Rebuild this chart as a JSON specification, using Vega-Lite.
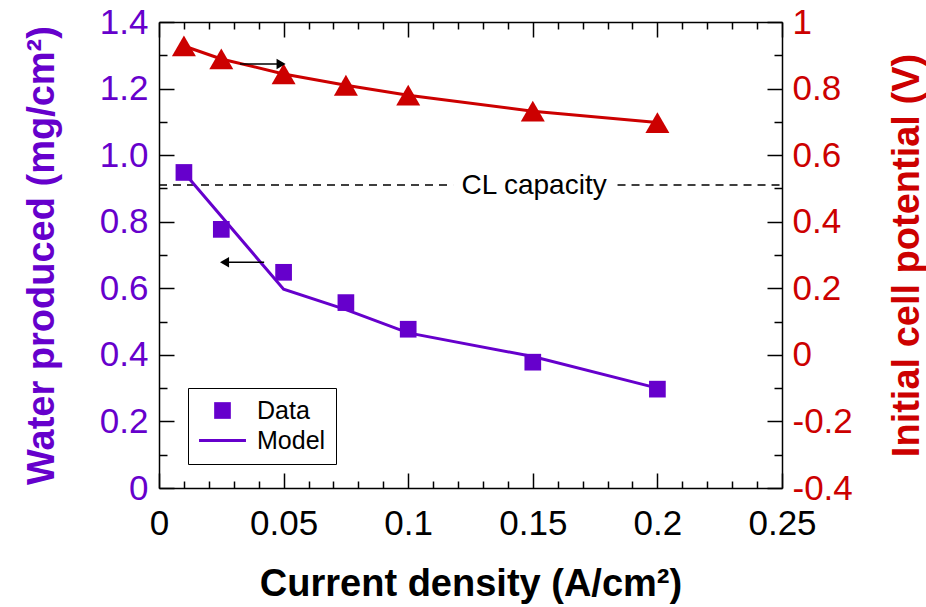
{
  "$schema": "https://vega.github.io/schema/vega-lite/v6.json",
  "width": 623,
  "height": 466,
  "autosize": {"type": "none"},
  "padding": {"left": 159, "top": 22, "right": 144, "bottom": 119},
  "background": "white",
  "config": {
    "view": {"stroke": null},
    "font": "Liberation Sans",
    "axis": {"grid": false, "domainColor": "black", "domainWidth": 1.5, "tickColor": "black", "tickWidth": 1.5, "labelOverlap": false, "labelFlush": false, "labelFont": "Liberation Sans", "titleFont": "Liberation Sans"}
  },
  "datasets": {
    "water": [
      {"x": 0.01, "y": 0.948, "series": "Data"},
      {"x": 0.025, "y": 0.777, "series": "Data"},
      {"x": 0.05, "y": 0.648, "series": "Data"},
      {"x": 0.075, "y": 0.557, "series": "Data"},
      {"x": 0.1, "y": 0.477, "series": "Data"},
      {"x": 0.15, "y": 0.378, "series": "Data"},
      {"x": 0.2, "y": 0.297, "series": "Data"}
    ],
    "model": [
      {"x": 0.01, "y": 0.948},
      {"x": 0.05, "y": 0.597},
      {"x": 0.075, "y": 0.536},
      {"x": 0.1, "y": 0.466},
      {"x": 0.15, "y": 0.395},
      {"x": 0.2, "y": 0.300}
    ],
    "potential": [
      {"x": 0.01, "y": 0.928},
      {"x": 0.025, "y": 0.889},
      {"x": 0.05, "y": 0.844},
      {"x": 0.075, "y": 0.810},
      {"x": 0.1, "y": 0.780},
      {"x": 0.15, "y": 0.732},
      {"x": 0.2, "y": 0.698}
    ],
    "capacity": [
      {"x": 0, "x2": 0.118, "y": 0.91},
      {"x": 0.184, "x2": 0.25, "y": 0.91}
    ],
    "capacityLabel": [
      {"x": 0.1505, "y": 0.91, "label": "CL capacity"}
    ],
    "arrowLeft": [{"x": 0.0422, "x2": 0.027, "y": 0.678}],
    "arrowLeftHead": [{"x": 0.0263, "y": 0.678}],
    "arrowRight": [{"x": 0.0325, "x2": 0.048, "y": 0.874}],
    "arrowRightHead": [{"x": 0.049, "y": 0.874}]
  },
  "layer": [
    {
      "encoding": {
        "x": {
          "field": "x", "type": "quantitative",
          "scale": {"domain": [0, 0.25], "nice": false, "zero": false},
          "axis": {
            "orient": "bottom",
            "values": [0, 0.05, 0.1, 0.15, 0.2, 0.25],
            "labelExpr": "toString(round(datum.value*100)/100)",
            "tickSize": -15,
            "labelPadding": 33,
            "labelFontSize": 35,
            "labelColor": "black",
            "title": "Current density (A/cm²)",
            "titleFontSize": 38,
            "titleFontWeight": "bold",
            "titleColor": "black",
            "titleY": 107,
            "titleBaseline": "alphabetic"
          }
        },
        "y": {
          "field": "y", "type": "quantitative",
          "scale": {"domain": [0, 1.4], "nice": false, "zero": false},
          "axis": {
            "orient": "left",
            "values": [0, 0.2, 0.4, 0.6, 0.8, 1, 1.2, 1.4],
            "labelExpr": "datum.value==0 ? '0' : format(datum.value, '.1f')",
            "tickSize": -15,
            "labelPadding": 26,
            "labelFontSize": 35,
            "labelColor": "#6600CC",
            "labelBaseline": "middle",
            "title": "Water produced (mg/cm²)",
            "titleFontSize": 38,
            "titleFontWeight": "bold",
            "titleColor": "#6600CC",
            "titleAngle": -90,
            "titleX": -106,
            "titleBaseline": "alphabetic"
          }
        }
      },
      "layer": [
        {
          "data": {"name": "capacity"},
          "mark": {"type": "rule", "color": "black", "strokeWidth": 1.5, "strokeDash": [8, 6]},
          "encoding": {"x2": {"field": "x2"}}
        },
        {
          "data": {"name": "capacityLabel"},
          "mark": {"type": "text", "color": "black", "fontSize": 28, "align": "center", "baseline": "alphabetic", "dy": 9, "font": "Liberation Sans"},
          "encoding": {"text": {"field": "label"}}
        },
        {
          "data": {"name": "model"},
          "mark": {"type": "line", "color": "#6600CC", "strokeWidth": 3}
        },
        {
          "data": {"name": "water"},
          "mark": {"type": "point", "filled": true, "fill": "#6600CC", "strokeWidth": 0, "opacity": 1, "size": 200},
          "encoding": {
            "shape": {
              "field": "series", "type": "nominal",
              "scale": {"domain": ["Data", "Model"], "range": ["M-1.18,-1.18L1.18,-1.18L1.18,1.18L-1.18,1.18Z", "M-3.32,-0.22L3.32,-0.22L3.32,0.22L-3.32,0.22Z"]},
              "legend": {
                "orient": "none", "legendX": 29, "legendY": 366, "title": null,
                "strokeColor": "black", "fillColor": "white", "padding": 10,
                "labelFontSize": 25, "labelColor": "black", "labelOffset": 22, "labelFont": "Liberation Sans",
                "symbolFillColor": "#6600CC", "symbolStrokeWidth": 0, "symbolOpacity": 1,
                "symbolSize": 200, "symbolOffset": 12,
                "rowPadding": 4
              }
            }
          }
        },
        {
          "data": {"name": "arrowLeft"},
          "mark": {"type": "rule", "color": "black", "strokeWidth": 1.5},
          "encoding": {"x2": {"field": "x2"}}
        },
        {
          "data": {"name": "arrowLeftHead"},
          "mark": {"type": "point", "shape": "triangle-left", "filled": true, "color": "black", "opacity": 1, "size": 110, "strokeWidth": 0}
        }
      ]
    },
    {
      "data": {"name": "water"},
      "mark": {"type": "point", "opacity": 0},
      "encoding": {
        "x": {
          "field": "x", "type": "quantitative",
          "scale": {"domain": [0, 0.25], "nice": false, "zero": false},
          "axis": {
            "orient": "bottom",
            "values": [0.01,0.02,0.03,0.04,0.06,0.07,0.08,0.09,0.11,0.12,0.13,0.14,0.16,0.17,0.18,0.19,0.21,0.22,0.23,0.24],
            "labels": false, "domain": false, "tickSize": -7, "title": null
          }
        },
        "y": {
          "field": "y", "type": "quantitative",
          "scale": {"domain": [0, 1.4], "nice": false, "zero": false},
          "axis": {
            "orient": "left",
            "values": [0.1, 0.3, 0.5, 0.7, 0.9, 1.1, 1.3],
            "labels": false, "domain": false, "tickSize": -8, "title": null
          }
        }
      }
    },
    {
      "encoding": {
        "x": {
          "field": "x", "type": "quantitative",
          "scale": {"domain": [0, 0.25], "nice": false, "zero": false},
          "axis": {
            "orient": "top",
            "values": [0, 0.05, 0.1, 0.15, 0.2, 0.25],
            "labels": false,
            "tickSize": -15,
            "title": null
          }
        },
        "y": {
          "field": "y", "type": "quantitative",
          "scale": {"domain": [-0.4, 1], "nice": false, "zero": false},
          "axis": {
            "orient": "right",
            "values": [-0.4, -0.2, 0, 0.2, 0.4, 0.6, 0.8, 1],
            "labelExpr": "toString(round(datum.value*10)/10)",
            "tickSize": -15,
            "labelPadding": 25,
            "labelFontSize": 35,
            "labelColor": "#CC0000",
            "labelBaseline": "middle",
            "title": "Initial cell potential (V)",
            "titleFontSize": 38,
            "titleFontWeight": "bold",
            "titleColor": "#CC0000",
            "titleAngle": -90,
            "titleX": 136,
            "titleBaseline": "alphabetic"
          }
        }
      },
      "layer": [
        {
          "data": {"name": "potential"},
          "mark": {"type": "line", "color": "#CC0000", "strokeWidth": 3}
        },
        {
          "data": {"name": "potential"},
          "mark": {"type": "point", "shape": "triangle-up", "filled": true, "color": "#CC0000", "opacity": 1, "size": 576, "strokeWidth": 0}
        },
        {
          "data": {"name": "arrowRight"},
          "mark": {"type": "rule", "color": "black", "strokeWidth": 1.5},
          "encoding": {"x2": {"field": "x2"}}
        },
        {
          "data": {"name": "arrowRightHead"},
          "mark": {"type": "point", "shape": "triangle-right", "filled": true, "color": "black", "opacity": 1, "size": 110, "strokeWidth": 0}
        }
      ]
    },
    {
      "data": {"name": "potential"},
      "mark": {"type": "point", "opacity": 0},
      "encoding": {
        "x": {
          "field": "x", "type": "quantitative",
          "scale": {"domain": [0, 0.25], "nice": false, "zero": false},
          "axis": {
            "orient": "top",
            "values": [0.01,0.02,0.03,0.04,0.06,0.07,0.08,0.09,0.11,0.12,0.13,0.14,0.16,0.17,0.18,0.19,0.21,0.22,0.23,0.24],
            "labels": false, "domain": false, "tickSize": -7, "title": null
          }
        },
        "y": {
          "field": "y", "type": "quantitative",
          "scale": {"domain": [-0.4, 1], "nice": false, "zero": false},
          "axis": {
            "orient": "right",
            "values": [-0.3, -0.1, 0.1, 0.3, 0.5, 0.7, 0.9],
            "labels": false, "domain": false, "tickSize": -8, "title": null
          }
        }
      }
    }
  ],
  "resolve": {"scale": {"y": "independent"}, "axis": {"x": "independent", "y": "independent"}}
}
